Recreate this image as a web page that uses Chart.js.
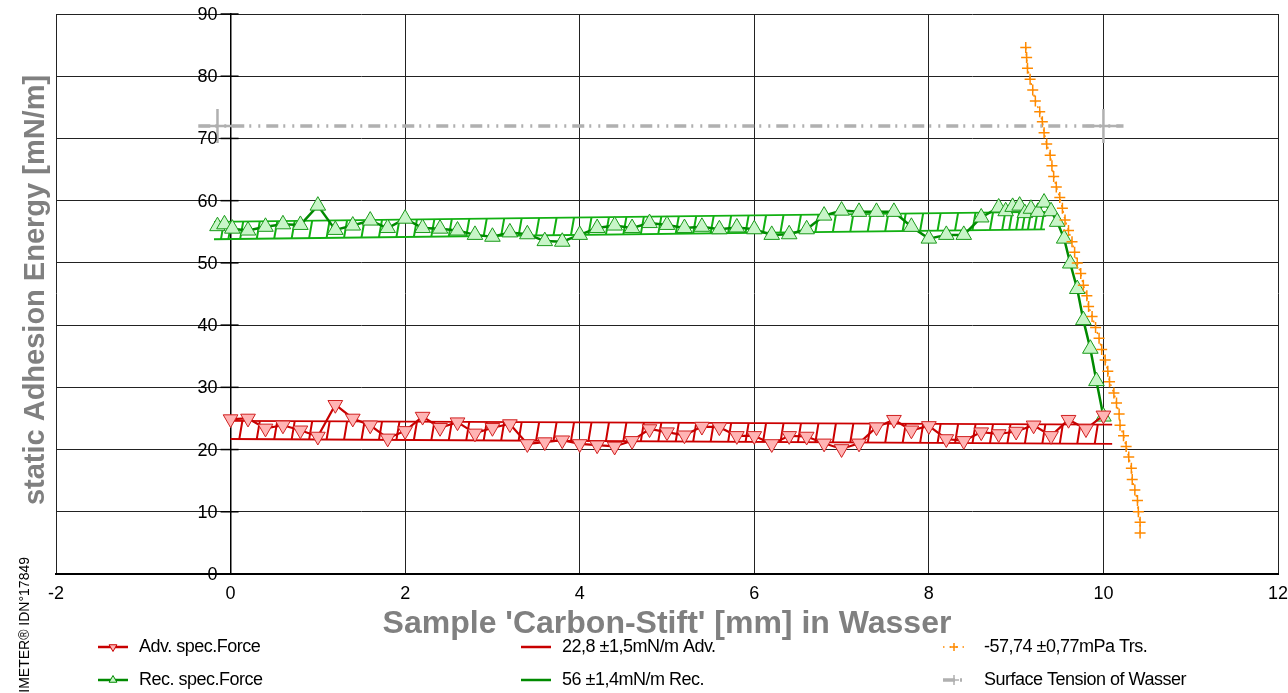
<!DOCTYPE html>
<html>
<head>
<meta charset="utf-8">
<script src="https://cdn.jsdelivr.net/npm/chart.js@4.4.0/dist/chart.umd.min.js"></script>
<style>
html, body { margin: 0; padding: 0; background: #fff; overflow: hidden; }
</style>
</head>
<body>
<canvas id="myChart" width="1288" height="693"></canvas>
<script>
// Adv. spec.Force (red, down triangles)
const advX = [0, 0.2, 0.4, 0.6, 0.8, 1.0, 1.2, 1.4, 1.6, 1.8, 2.0, 2.2, 2.4, 2.6, 2.8, 3.0, 3.2, 3.4, 3.6, 3.8,
              4.0, 4.2, 4.4, 4.6, 4.8, 5.0, 5.2, 5.4, 5.6, 5.8, 6.0, 6.2, 6.4, 6.6, 6.8, 7.0, 7.2, 7.4, 7.6, 7.8,
              8.0, 8.2, 8.4, 8.6, 8.8, 9.0, 9.2, 9.4, 9.6, 9.8, 10.0];
const advY = [24.9, 25.0, 23.4, 23.9, 23.1, 22.1, 27.2, 25.0, 23.9, 21.8, 23.0, 25.3, 23.5, 24.4, 22.6, 23.5, 24.1, 20.9, 21.2, 21.5,
              20.9, 20.7, 20.5, 21.4, 23.3, 22.8, 22.3, 23.7, 23.6, 22.2, 22.2, 20.9, 22.2, 22.1, 21.0, 20.1, 21.0, 23.6, 24.8, 23.1,
              23.8, 21.7, 21.4, 22.8, 22.5, 22.9, 23.9, 22.2, 24.8, 23.3, 25.5];

// Rec. spec.Force (green, up triangles)
const recX = [-0.15, -0.07, 0.02, 0.2, 0.4, 0.6, 0.8, 1.0, 1.2, 1.4, 1.6, 1.8, 2.0, 2.2, 2.4, 2.6, 2.8, 3.0, 3.2, 3.4,
              3.6, 3.8, 4.0, 4.2, 4.4, 4.6, 4.8, 5.0, 5.2, 5.4, 5.6, 5.8, 6.0, 6.2, 6.4, 6.6, 6.8, 7.0, 7.2, 7.4,
              7.6, 7.8, 8.0, 8.2, 8.4, 8.6, 8.8, 8.88, 8.96, 9.04, 9.1, 9.17, 9.25, 9.32, 9.4, 9.47, 9.55, 9.62, 9.7, 9.77,
              9.85, 9.92, 10.0];
const recY = [55.9, 56.2, 55.5, 55.2, 55.8, 56.2, 56.1, 59.2, 55.3, 56.0, 56.8, 55.6, 57.1, 55.6, 55.5, 55.2, 54.5, 54.2, 54.9, 54.6,
              53.5, 53.4, 54.5, 55.6, 56.0, 55.6, 56.4, 56.1, 55.6, 55.8, 55.4, 55.7, 55.4, 54.5, 54.6, 55.4, 57.6, 58.4, 58.2, 58.2,
              58.2, 55.8, 53.9, 54.5, 54.5, 57.3, 58.9, 58.3, 59.0, 59.2, 58.0, 58.7, 58.2, 59.7, 58.3, 56.6, 53.9, 49.9, 45.8, 40.8,
              36.2, 31.0, 25.3];

// fitted bands (start, end)
const advBandX = [0, 10.1];
const advBandTop = [24.6, 24.0];
const advBandBottom = [21.7, 20.9];
const recBandX = [-0.19, 9.33];
const recBandTop = [56.6, 58.2];
const recBandBottom = [53.8, 55.4];

// -57,74 mPa Trs. (orange)
const trsX = [9.11, 9.12, 9.13, 9.16, 9.19, 9.22, 9.27, 9.30, 9.32, 9.35, 9.39, 9.41, 9.43, 9.46, 9.50, 9.53, 9.56, 9.60, 9.64, 9.67,
              9.70, 9.74, 9.77, 9.81, 9.83, 9.87, 9.91, 9.95, 9.98, 10.02, 10.05, 10.07, 10.12, 10.15, 10.18, 10.19, 10.23, 10.26, 10.29, 10.32,
              10.33, 10.36, 10.39, 10.40, 10.42, 10.42];
const trsY = [84.6, 83.0, 81.3, 79.5, 77.8, 76.0, 74.3, 72.7, 70.9, 69.1, 67.3, 65.6, 63.9, 62.2, 60.5, 58.8, 56.9, 55.2, 53.4, 51.7,
              50.0, 48.3, 46.4, 44.7, 43.0, 41.4, 39.6, 37.9, 36.1, 34.4, 32.6, 30.9, 29.1, 27.5, 25.7, 23.9, 22.2, 20.5, 18.8, 17.0,
              15.2, 13.5, 11.8, 10.0, 8.3, 6.6];

// Surface Tension of Wasser
const stX = [-0.37, -0.15, 10.0, 10.23];
const stY = [72, 72, 72, 72];

const xRange = [-2, 12, 2];
const yRange = [0, 90, 10];

const legendLabels = ['Adv. spec.Force', 'Rec. spec.Force', '22,8 \u00b11,5mN/m Adv.', '56 \u00b11,4mN/m Rec.',
                      '-57,74 \u00b10,77mPa Trs.', 'Surface Tension of Wasser'];

const RED = '#c80000', RED_FILL = '#ffb4b4', RED_BAND = '#cc0000';
const GREEN = '#008a00', GREEN_FILL = '#c8f5c8', GREEN_BAND = '#12b012';
const ORANGE = '#ff8a00', GRAY = '#b0b0b0';
const FONT = "'Liberation Sans', Arial, sans-serif";

Chart.defaults.font.family = FONT;

function pts(xs, ys) { return xs.map((x, i) => ({x: x, y: ys[i]})); }
function lerp(bx, by, x) { return by[0] + (by[1] - by[0]) * (x - bx[0]) / (bx[1] - bx[0]); }
function bandLines(bx, top, bottom) {
    return [{x: bx[0], y: top[0]}, {x: bx[1], y: top[1]}, {x: bx[1], y: null},
            {x: bx[0], y: bottom[0]}, {x: bx[1], y: bottom[1]}];
}
function hatch(xs, bx, top, bottom) {
    const out = [];
    for (let i = 0; i < xs.length - 1; i++) {
        const x = (xs[i] + xs[i + 1]) / 2;
        if (x < bx[0] || x + 0.035 > bx[1]) continue;
        out.push({x: x, y: lerp(bx, bottom, x)});
        out.push({x: x + 0.035, y: lerp(bx, top, x + 0.035)});
        out.push({x: x, y: null});
    }
    return out;
}

const data = {
    datasets: [
        { // surface tension
            data: pts(stX, stY), showLine: true, borderColor: GRAY, borderWidth: 3.5,
            borderDash: [12, 5, 2, 7, 2, 6], pointStyle: 'cross', pointRadius: [0, 17, 17, 0],
            pointBorderColor: GRAY, pointBorderWidth: 2.5, order: 0
        },
        { // Trs.
            data: pts(trsX, trsY), showLine: true, borderColor: ORANGE, borderWidth: 1.5, borderDash: [2, 4],
            pointStyle: 'cross', pointRadius: 5.5, pointBorderColor: ORANGE, pointBorderWidth: 1.5, order: 1
        },
        { // Adv
            data: pts(advX, advY), showLine: true, borderColor: RED, borderWidth: 2.2,
            pointStyle: 'triangle', pointRotation: 180, pointRadius: 8.5,
            pointBackgroundColor: RED_FILL, pointBorderColor: '#d02020', pointBorderWidth: 1, order: 2
        },
        { // Rec
            data: pts(recX, recY), showLine: true, borderColor: GREEN, borderWidth: 2.5,
            pointStyle: 'triangle', pointRadius: 9,
            pointBackgroundColor: GREEN_FILL, pointBorderColor: '#1a9a1a', pointBorderWidth: 1, order: 3
        },
        { data: bandLines(advBandX, advBandTop, advBandBottom), showLine: true, borderColor: RED_BAND, borderWidth: 1.8, pointRadius: 0, order: 4 },
        { data: hatch(advX, advBandX, advBandTop, advBandBottom), showLine: true, borderColor: RED_BAND, borderWidth: 2, pointRadius: 0, order: 4 },
        { data: bandLines(recBandX, recBandTop, recBandBottom), showLine: true, borderColor: GREEN_BAND, borderWidth: 1.8, pointRadius: 0, order: 5 },
        { data: hatch(recX, recBandX, recBandTop, recBandBottom), showLine: true, borderColor: GREEN_BAND, borderWidth: 2, pointRadius: 0, order: 5 }
    ]
};

const extras = {
    id: 'extras',
    afterDraw(chart) {
        const ctx = chart.ctx;
        const xs = chart.scales.x, ys = chart.scales.y;
        const x0 = xs.getPixelForValue(0);

        // y ticks: crossing tick marks + labels left of the axis at x = 0
        ctx.save();
        ctx.strokeStyle = '#000';
        ctx.lineWidth = 1.5;
        ctx.fillStyle = '#000';
        ctx.font = '18px ' + FONT;
        ctx.textAlign = 'right';
        ctx.textBaseline = 'middle';
        ys.ticks.forEach(t => {
            const py = ys.getPixelForValue(t.value);
            ctx.beginPath(); ctx.moveTo(x0 - 10, py); ctx.lineTo(x0 + 8, py); ctx.stroke();
            ctx.fillText(String(t.value), x0 - 13, py + 1);
        });
        ctx.restore();

        // y title
        ctx.save();
        ctx.translate(36, 290);
        ctx.rotate(-Math.PI / 2);
        ctx.fillStyle = '#808080';
        ctx.font = 'bold 29px ' + FONT;
        ctx.textAlign = 'center';
        ctx.textBaseline = 'middle';
        ctx.fillText('static Adhesion Energy [mN/m]', 0, 0);
        ctx.restore();

        ctx.save();
        ctx.translate(25, 557);
        ctx.rotate(-Math.PI / 2);
        ctx.fillStyle = '#000';
        ctx.font = '14px ' + FONT;
        ctx.textAlign = 'right';
        ctx.textBaseline = 'middle';
        ctx.fillText('IMETER\u00ae IDN\u00b017849', 0, 0);
        ctx.restore();

        // legend
        const rows = [647, 680];
        const cols = [[98, 128, 139], [521, 551, 562], [943, 969, 984]];
        const pt = Chart.helpers.drawPoint;
        ctx.save();
        ctx.lineCap = 'butt';
        legendLabels.forEach((lab, i) => {
            const c = cols[Math.floor(i / 2)], y = rows[i % 2];
            const mid = (c[0] + c[1]) / 2;
            ctx.setLineDash([]);
            if (i < 4) {
                ctx.strokeStyle = (i % 2 === 0) ? RED : GREEN;
                ctx.lineWidth = 2.5;
                ctx.beginPath(); ctx.moveTo(c[0], y); ctx.lineTo(c[1], y); ctx.stroke();
                if (i < 2) {
                    ctx.fillStyle = i === 0 ? RED_FILL : GREEN_FILL;
                    ctx.strokeStyle = i === 0 ? RED : GREEN;
                    ctx.lineWidth = 1;
                    pt(ctx, {pointStyle: 'triangle', radius: 4.5, rotation: i === 0 ? 180 : 0, borderWidth: 1}, mid, y);
                }
            } else if (i === 4) {
                ctx.strokeStyle = ORANGE; ctx.lineWidth = 1.5;
                ctx.setLineDash([1.5, 5]);
                ctx.beginPath(); ctx.moveTo(c[0], y); ctx.lineTo(c[1], y); ctx.stroke();
                ctx.setLineDash([]);
                pt(ctx, {pointStyle: 'cross', radius: 4, borderWidth: 1.5}, mid - 2, y);
            } else {
                ctx.strokeStyle = GRAY; ctx.lineWidth = 3.5;
                ctx.setLineDash([12, 5, 2, 7, 2, 6]);
                ctx.beginPath(); ctx.moveTo(c[0], y); ctx.lineTo(c[1], y); ctx.stroke();
                ctx.setLineDash([]);
                ctx.lineWidth = 1.5;
                pt(ctx, {pointStyle: 'cross', radius: 5, borderWidth: 1.5}, mid - 2, y);
            }
            ctx.fillStyle = '#000';
            ctx.font = '18px ' + FONT;
            if ('letterSpacing' in ctx) ctx.letterSpacing = '-0.5px';
            ctx.textAlign = 'left';
            ctx.textBaseline = 'middle';
            ctx.fillText(lab, c[2], y);
        });
        ctx.restore();
    }
};

const config = {
    type: 'scatter',
    data,
    options: {
        responsive: false,
        animation: false,
        spanGaps: false,
        layout: { padding: { left: 56, right: 10, top: 14, bottom: 50 } },
        plugins: {
            legend: { display: false },
            tooltip: { enabled: false }
        },
        scales: {
            x: {
                type: 'linear', min: xRange[0], max: xRange[1],
                ticks: { stepSize: xRange[2], color: '#000', font: { size: 18 }, padding: 9 },
                grid: { color: '#222', lineWidth: 1, drawTicks: false },
                border: { color: '#000', width: 2 },
                title: {
                    display: true, text: "Sample 'Carbon-Stift' [mm] in Wasser", color: '#808080',
                    font: { size: 32, weight: 'bold' }, padding: 0
                },
                afterFit(scale) {
                    scale.height = 69;
                    scale.paddingLeft = 0;
                    scale.paddingRight = 0;
                }
            },
            y: {
                type: 'linear', min: yRange[0], max: yRange[1], position: { x: 0 },
                ticks: { stepSize: yRange[2], display: false },
                grid: { color: '#222', lineWidth: 1, drawTicks: false },
                border: { color: '#000', width: 1.5 }
            }
        }
    },
    plugins: [extras]
};

var myChart = new Chart(document.getElementById('myChart'), config);
</script>
</body>
</html>
